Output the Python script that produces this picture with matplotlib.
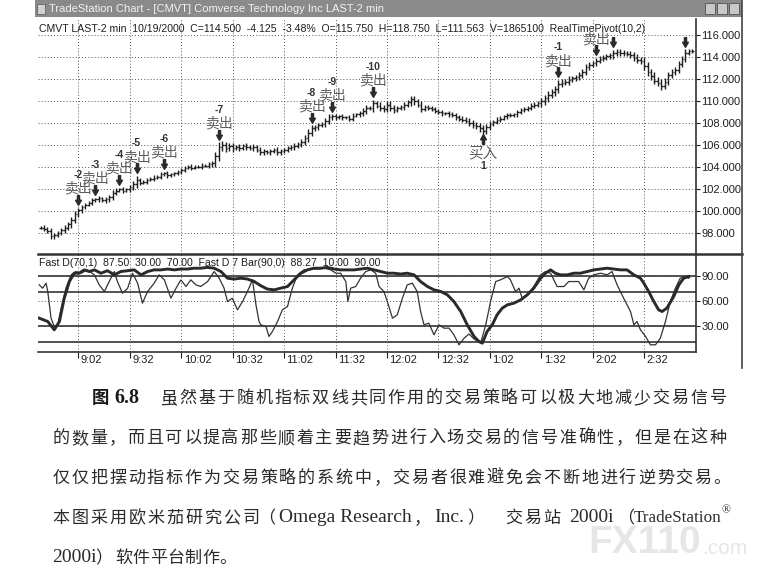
import matplotlib
matplotlib.use('Agg')
import matplotlib.pyplot as plt
import numpy as np
from matplotlib.lines import Line2D
from matplotlib.patches import Rectangle
from matplotlib.path import Path
from matplotlib.transforms import ScaledTranslation
from matplotlib.ticker import FormatStrFormatter

# ---------------- data ----------------
first_bar = 4          # bar index of the first visible 2-min bar (bar 0 = 8:32)

close = [
    98.45, 98.35, 98.15, 97.65, 97.75, 97.95, 98.25, 98.45, 98.75, 99.15,
    99.65, 100.02, 100.32, 100.52, 100.72, 100.92, 101.02, 101.12, 100.92, 101.02,
    101.22, 101.62, 101.82, 101.92, 101.82, 101.92, 102.12, 102.42, 102.79, 102.52,
    102.62, 102.79, 102.89, 102.99, 103.09, 103.29, 103.39, 103.19, 103.29, 103.39,
    103.49, 103.69, 103.89, 103.99, 103.89, 103.99, 103.99, 104.09, 104.09, 104.19,
    104.29, 104.99, 105.76, 105.96, 105.66, 105.86, 105.66, 105.76, 105.66, 105.86,
    105.76, 105.66, 105.76, 105.49, 105.29, 105.39, 105.29, 105.39, 105.49, 105.29,
    105.39, 105.49, 105.66, 105.76, 105.86, 106.06, 106.26, 106.56, 107.06, 107.46,
    107.56, 107.76, 107.86, 108.16, 108.46, 108.56, 108.46, 108.56, 108.46, 108.46,
    108.36, 108.63, 108.73, 108.83, 109.03, 109.33, 109.33, 109.73, 109.53, 109.33,
    109.23, 109.63, 109.33, 109.13, 109.33, 109.43, 109.63, 109.83, 110.13, 109.93,
    109.63, 109.23, 109.43, 109.33, 109.23, 109.03, 108.93, 108.83, 108.83, 108.73,
    108.66, 108.51, 108.36, 108.26, 108.16, 107.96, 107.76, 107.66, 107.46, 107.26,
    107.56, 107.86, 108.06, 108.26, 108.36, 108.56, 108.66, 108.66, 108.73, 108.93,
    109.13, 109.23, 109.33, 109.53, 109.63, 109.73, 109.93, 110.23, 110.53, 110.73,
    111.03, 111.53, 111.63, 111.71, 111.91, 112.01, 112.11, 112.31, 112.61, 113.01,
    113.21, 113.41, 113.61, 113.81, 113.91, 114.01, 114.11, 114.31, 114.41, 114.31,
    114.31, 114.21, 114.11, 113.91, 113.71, 113.61, 113.11, 112.61, 112.21, 111.81,
    111.63, 111.33, 111.71, 112.31, 112.61, 112.81, 113.31, 113.81, 114.35, 114.5, 114.5,
]

# extra range of each bar beyond its open/close
spread = [
    0.15, 0.2, 0.15, 0.25, 0.2, 0.15, 0.2, 0.25, 0.2, 0.3,
    0.3, 0.25, 0.2, 0.2, 0.15, 0.2, 0.15, 0.2, 0.15, 0.2,
    0.2, 0.25, 0.2, 0.15, 0.2, 0.15, 0.2, 0.25, 0.35, 0.2,
    0.15, 0.2, 0.15, 0.2, 0.15, 0.2, 0.15, 0.2, 0.15, 0.15,
    0.2, 0.15, 0.2, 0.15, 0.2, 0.15, 0.15, 0.2, 0.15, 0.2,
    0.2, 0.35, 0.45, 0.35, 0.3, 0.25, 0.3, 0.2, 0.25, 0.2,
    0.25, 0.2, 0.25, 0.2, 0.25, 0.2, 0.15, 0.2, 0.2, 0.25,
    0.2, 0.15, 0.2, 0.2, 0.25, 0.2, 0.25, 0.3, 0.35, 0.3,
    0.25, 0.2, 0.2, 0.25, 0.3, 0.2, 0.2, 0.15, 0.2, 0.15,
    0.2, 0.2, 0.15, 0.2, 0.25, 0.3, 0.2, 0.35, 0.25, 0.3,
    0.25, 0.3, 0.3, 0.25, 0.2, 0.2, 0.25, 0.25, 0.3, 0.3,
    0.25, 0.3, 0.2, 0.2, 0.2, 0.15, 0.2, 0.2, 0.15, 0.2,
    0.2, 0.25, 0.2, 0.25, 0.2, 0.25, 0.3, 0.25, 0.3, 0.35,
    0.3, 0.25, 0.2, 0.2, 0.2, 0.15, 0.2, 0.2, 0.15, 0.2,
    0.2, 0.15, 0.2, 0.2, 0.25, 0.25, 0.3, 0.3, 0.35, 0.3,
    0.3, 0.35, 0.3, 0.25, 0.3, 0.25, 0.2, 0.25, 0.3, 0.3,
    0.25, 0.2, 0.25, 0.2, 0.25, 0.2, 0.25, 0.3, 0.25, 0.3,
    0.25, 0.2, 0.25, 0.3, 0.3, 0.25, 0.35, 0.35, 0.3, 0.35,
    0.3, 0.35, 0.3, 0.3, 0.25, 0.25, 0.3, 0.25, 0.3, 0.2, 0.2,
]

time_ticks = [15, 30, 45, 60, 75, 90, 105, 120, 135, 150, 165, 180]
time_labels = ['9:02', '9:32', '10:02', '10:32', '11:02', '11:32',
               '12:02', '12:32', '1:02', '1:32', '2:02', '2:32']
price_ticks = [98, 100, 102, 104, 106, 108, 110, 112, 114, 116]

sell_bars = [15, 20, 27, 32, 40, 56, 83, 89, 101, 155, 166, 171, 192]
sell_nums = ['-2', '-3', '-4', '-5', '-6', '-7', '-8', '-9', '-10', '-1', '', '', '']
sell_tags = ['卖出'] * 11 + ['', '']
buy_bars = [133]
buy_nums = ['1']
buy_tags = ['买入']

# Fast D 7 Bar (thick) and Fast D (thin): (bar, value)
slow_pts = [(3.6, 39), (6.1, 35), (8.0, 25), (9.5, 35), (10.9, 63), (12.4, 83), (13.8, 93),
            (15.3, 93), (16.7, 97), (18.2, 95), (19.7, 97), (21.6, 93), (23.5, 96), (25.5, 91),
            (27.4, 95), (29.4, 96), (31.3, 97), (33.3, 91), (35.2, 95), (37.1, 97), (39.1, 97),
            (41.0, 98), (43.0, 97), (44.9, 98), (46.8, 98), (48.8, 99), (50.7, 99), (52.7, 100),
            (54.6, 99), (56.6, 95), (58.5, 87), (60.4, 86), (62.4, 87), (64.3, 86), (66.3, 83),
            (68.2, 78), (70.1, 74), (72.1, 73), (74.0, 75), (76.0, 77), (77.9, 85), (79.9, 93),
            (81.8, 97), (83.7, 99), (85.7, 99), (87.6, 100), (89.6, 98), (91.5, 97), (93.4, 97),
            (95.4, 97), (97.3, 98), (99.3, 99), (101.2, 97), (103.2, 95), (105.1, 93), (107.0, 93),
            (109.0, 92), (110.9, 93), (112.9, 91), (114.8, 83), (116.8, 77), (118.7, 73),
            (120.7, 71), (122.6, 67), (124.5, 59), (126.5, 47), (128.4, 31), (130.4, 17),
            (131.8, 11), (132.8, 9), (134.2, 23), (135.7, 31), (137.1, 43), (138.6, 51),
            (140.1, 55), (142.0, 57), (144.0, 61), (145.9, 67), (147.8, 75), (149.8, 87),
            (151.2, 93), (152.7, 97), (154.1, 93), (155.6, 91), (157.5, 91), (159.5, 93),
            (161.4, 93), (163.4, 95), (165.3, 97), (167.3, 98), (169.2, 99), (171.1, 98),
            (173.1, 97), (175.0, 97), (177.0, 91), (178.9, 87), (179.9, 81), (181.3, 71),
            (182.8, 59), (184.2, 49), (185.2, 47), (186.6, 51), (188.6, 65), (190.1, 79),
            (191.5, 87), (193.0, 89)]
fast_pts = [(3.6, 79), (4.6, 75), (5.6, 81), (6.1, 71), (7.05, 39), (8.0, 29), (9.0, 31),
            (10.0, 51), (11.4, 75), (12.9, 91), (14.3, 95), (15.8, 93), (17.7, 97), (19.7, 91),
            (21.1, 79), (22.6, 71), (24.0, 83), (25.5, 95), (26.4, 83), (27.9, 69), (29.4, 75),
            (30.8, 93), (32.3, 81), (33.7, 57), (35.2, 71), (37.1, 81), (38.6, 91), (40.1, 85),
            (42.0, 63), (43.5, 75), (44.9, 85), (46.4, 77), (47.8, 85), (49.3, 79), (50.7, 77),
            (52.7, 83), (54.6, 95), (56.1, 87), (57.5, 75), (58.5, 59), (59.9, 63), (61.4, 49),
            (62.9, 59), (64.3, 71), (65.8, 85), (66.8, 55), (67.7, 35), (68.2, 31), (69.7, 29),
            (70.6, 17), (71.6, 23), (73.1, 35), (74.5, 49), (76.0, 53), (77.4, 75), (78.9, 91),
            (80.8, 97), (82.8, 98), (84.7, 98), (86.7, 99), (88.6, 97), (90.1, 93), (91.5, 93),
            (93.0, 83), (93.6, 59), (94.4, 75), (95.9, 77), (97.3, 87), (98.8, 95), (100.3, 97),
            (101.7, 93), (102.7, 77), (104.1, 71), (105.1, 59), (106.6, 39), (108.0, 43),
            (109.5, 63), (110.9, 79), (112.4, 81), (113.8, 71), (114.8, 47), (115.8, 31),
            (117.2, 33), (118.7, 19), (120.2, 31), (121.6, 27), (123.1, 27), (124.5, 19),
            (126.0, 7), (127.5, 15), (128.9, 20), (130.4, 14), (132.3, 9), (133.8, 31),
            (135.2, 59), (136.7, 83), (138.1, 85), (140.1, 89), (141.0, 85), (142.5, 71),
            (143.5, 75), (144.4, 63), (145.9, 67), (147.8, 77), (149.8, 91), (151.2, 95),
            (152.7, 93), (154.6, 77), (156.6, 77), (158.0, 83), (159.5, 83), (160.9, 83),
            (162.4, 73), (163.8, 87), (165.3, 91), (167.3, 93), (169.2, 91), (170.6, 95),
            (172.1, 79), (174.0, 63), (176.0, 47), (177.0, 31), (177.9, 35), (178.9, 25),
            (180.4, 17), (181.8, 7), (183.3, 7), (184.7, 15), (186.2, 35), (187.6, 59),
            (189.1, 75), (190.5, 87), (192.0, 89), (193.0, 87)]
osc_levels = [90, 70, 30, 10]
osc_ticks = [30, 60, 90]

title = 'TradeStation Chart - [CMVT] Comverse Technology Inc LAST-2 min'
header = ('CMVT LAST-2 min  10/19/2000  C=114.500  -4.125  -3.48%  O=115.750  '
          'H=118.750  L=111.563  V=1865100  RealTimePivot(10,2)')
osc_header = 'Fast D(70,1)  87.50  30.00  70.00  Fast D 7 Bar(90,0)  88.27  10.00  90.00'

cap1 = '虽然基于随机指标双线共同作用的交易策略可以极大地减少交易信号'
cap2 = '的数量，而且可以提高那些顺着主要趋势进行入场交易的信号准确性，但是在这种'
cap3 = '仅仅把摆动指标作为交易策略的系统中，交易者很难避免会不断地进行逆势交易。'

# ---------------- figure ----------------
W, H = 766, 587
fig = plt.figure(figsize=(W / 100, H / 100), dpi=100)
fig.patch.set_facecolor('white')

CJK = 'Noto Sans CJK SC'
SANS = ['Liberation Sans', 'DejaVu Sans']
SERIF = ['Liberation Serif', CJK]
INK = '#1e1e1e'


def fx(x):
    return x / W


def fy(y):
    return 1 - y / H


ax = fig.add_axes([fx(38), fy(254), fx(696) - fx(38), fy(19) - fy(254)])
ax2 = fig.add_axes([fx(38), fy(352), fx(696) - fx(38), fy(254) - fy(352)], sharex=ax)

bars = np.arange(first_bar, first_bar + len(close))
c = np.array(close)
o = np.r_[c[0], c[:-1]]
s = np.array(spread)
hi = np.maximum(o, c) + s
lo = np.minimum(o, c) - s

ax.vlines(bars, lo, hi, color=INK, lw=1.0, zorder=3)
ax.hlines(o, bars - 0.45, bars, color=INK, lw=1.0, zorder=3)
ax.hlines(c, bars, bars + 0.45, color=INK, lw=1.0, zorder=3)

ax.set_xlim(3.25, 195.1)
ax.set_ylim(96.05, 117.41)
ax.set_yticks(price_ticks)
ax.set_xticks(time_ticks)
ax.yaxis.tick_right()
ax.yaxis.set_major_formatter(FormatStrFormatter('%.3f'))
ax.tick_params(axis='y', direction='out', length=3, pad=1, labelsize=8, colors=INK)
ax.tick_params(axis='x', length=0, labelbottom=False)
for lab in ax.get_yticklabels():
    lab.set_family(SANS)
ax.grid(True, ls=(0, (1, 2.2)), color='#555555', lw=0.7)
ax.set_axisbelow(True)
for side in ['left', 'top', 'bottom']:
    ax.spines[side].set_visible(False)
ax.spines['right'].set_color('#333333')
ax.spines['right'].set_linewidth(1.2)

# signals
arrow_dn = Path([(-0.22, 1), (0.22, 1), (0.22, 0.05), (0.6, 0.05), (0, -1),
                 (-0.6, 0.05), (-0.22, 0.05), (-0.22, 1)])
arrow_up = Path([(-0.22, -1), (0.22, -1), (0.22, -0.05), (0.6, -0.05), (0, 1),
                 (-0.6, -0.05), (-0.22, -0.05), (-0.22, -1)])
up_shift = ax.transData + ScaledTranslation(0, 5.5 / 72, fig.dpi_scale_trans)
dn_shift = ax.transData + ScaledTranslation(0, -3.2 / 72, fig.dpi_scale_trans)

for b, num, tag in zip(sell_bars, sell_nums, sell_tags):
    top = hi[b - first_bar]
    ax.plot(b, top, marker=arrow_dn, ms=7, color='#2a2a2a', transform=up_shift, zorder=4)
    if tag:
        ax.annotate(tag, (b, top), xytext=(0, 13.6), textcoords='offset points',
                    ha='center', va='center', fontsize=10, family=CJK, color='#5e5e5e')
    if num:
        ax.annotate(num, (b, top), xytext=(0, 23.5), textcoords='offset points',
                    ha='center', va='center', fontsize=7.5, family=SANS,
                    weight='bold', color='#333333')

for b, num, tag in zip(buy_bars, buy_nums, buy_tags):
    bot = lo[b - first_bar]
    ax.plot(b, bot, marker=arrow_up, ms=7, color='#2a2a2a', transform=dn_shift, zorder=4)
    ax.annotate(tag, (b, bot), xytext=(0, -13.5), textcoords='offset points',
                ha='center', va='center', fontsize=10.5, family=CJK, color='#5e5e5e')
    ax.annotate(num, (b, bot), xytext=(0, -23), textcoords='offset points',
                ha='center', va='center', fontsize=7.5, family=SANS,
                weight='bold', color='#333333')

# ---------------- oscillator panel ----------------
sx, sy = zip(*slow_pts)
qx, qy = zip(*fast_pts)
for lv in osc_levels:
    ax2.axhline(lv, color='#444444', lw=1.3, zorder=2)
ax2.plot(qx, qy, color='#333333', lw=0.9, zorder=3)
ax2.plot(sx, sy, color='#2a2a2a', lw=2.1, zorder=4)

ax2.set_ylim(-1.65, 116.07)
ax2.set_yticks(osc_ticks)
ax2.yaxis.tick_right()
ax2.yaxis.set_major_formatter(FormatStrFormatter('%.2f'))
ax2.tick_params(axis='y', direction='out', length=3, pad=1, labelsize=8, colors=INK)
ax2.set_xticks(time_ticks)
ax2.set_xticklabels(time_labels)
ax2.tick_params(axis='x', direction='out', length=4, pad=-2, labelsize=8, colors=INK)
nudge = ScaledTranslation(2.5 / 100, 0, fig.dpi_scale_trans)
for lab in ax2.get_xticklabels():
    lab.set_horizontalalignment('left')
    lab.set_family(SANS)
    lab.set_transform(lab.get_transform() + nudge)
for lab in ax2.get_yticklabels():
    lab.set_family(SANS)
ax2.grid(True, ls=(0, (1, 2.2)), color='#555555', lw=0.7)
ax2.set_axisbelow(True)
ax2.spines['left'].set_visible(False)
ax2.spines['top'].set_visible(False)
for side in ['right', 'bottom']:
    ax2.spines[side].set_color('#333333')
    ax2.spines[side].set_linewidth(1.2)

# ---------------- window chrome ----------------
fig.add_artist(Line2D([fx(38), fx(742)], [fy(254), fy(254)], color='#333333', lw=1.8))
fig.add_artist(Line2D([fx(742), fx(742)], [fy(0), fy(368)], color='#444444', lw=1.2))
fig.add_artist(Rectangle((fx(35), fy(17)), fx(742) - fx(35), fy(0) - fy(17),
                         transform=fig.transFigure, facecolor='#8a8a8a', edgecolor='none'))
fig.add_artist(Rectangle((fx(37), fy(14)), fx(8), fy(0) - fy(10),
                         transform=fig.transFigure, facecolor='#d0d0d0', edgecolor='#555555', lw=0.5))
for bx in [705, 717, 729]:
    fig.add_artist(Rectangle((fx(bx), fy(14)), fx(10), fy(0) - fy(11),
                             transform=fig.transFigure, facecolor='#c8c8c8',
                             edgecolor='#505050', lw=0.6))
fig.text(fx(49), fy(8.5), title, color='#f2f2f2', fontsize=8, family=SANS, va='center')
fig.text(fx(39), fy(28.5), header, color=INK, fontsize=7.6, family=SANS, va='center')
fig.text(fx(39), fy(263), osc_header, color=INK, fontsize=7.6, family=SANS, va='center')

# ---------------- caption ----------------


def spread_text(txt, x0, x1, y, **kw):
    n = len(txt)
    for k, ch in enumerate(txt):
        fig.text(fx(x0 + (x1 - x0) * k / (n - 1)), fy(y), ch, ha='center', va='center', **kw)


cap_kw = dict(fontsize=12.3, family=CJK, color='#2a2a2a')
lat_kw = dict(fontsize=14, family=SERIF, color='#2a2a2a')

fig.text(fx(92), fy(398), '图', fontsize=12.5, family=CJK, weight='bold', color='#1a1a1a', va='center')
fig.text(fx(114), fy(398), '6.8', fontsize=14.5, family=SERIF, weight='bold', color='#1a1a1a', va='center')
spread_text(cap1, 169, 718, 398, **cap_kw)
spread_text(cap2, 61, 718, 438, **cap_kw)
spread_text(cap3, 61, 722, 478, **cap_kw)

spread_text('本图采用欧米茄研究公司', 61, 251, 518, **cap_kw)
fig.text(fx(267), fy(518), '（', ha='center', va='center', **cap_kw)
fig.text(fx(279), fy(518), 'Omega Research', ha='left', va='center', **lat_kw)
fig.text(fx(422), fy(518), '，', ha='center', va='center', **cap_kw)
fig.text(fx(434), fy(518), 'Inc.', ha='left', va='center', **lat_kw)
fig.text(fx(476), fy(518), '）', ha='center', va='center', **cap_kw)
spread_text('交易站', 514, 552, 518, **cap_kw)
fig.text(fx(569), fy(518), '2000i', ha='left', va='center', **lat_kw)
fig.text(fx(626), fy(518), '（', ha='center', va='center', **cap_kw)
fig.text(fx(634), fy(518), 'TradeStation', ha='left', va='center', fontsize=12.3,
         family=SERIF, color='#2a2a2a')
fig.text(fx(722), fy(510), '®', ha='left', va='center', fontsize=8.5, family=SERIF, color='#2a2a2a')

fig.text(fx(52), fy(558), '2000i', ha='left', va='center', **lat_kw)
fig.text(fx(104), fy(558), '）', ha='center', va='center', **cap_kw)
spread_text('软件平台制作。', 124, 228, 558, **cap_kw)

# watermark
fig.text(fx(588), fy(543), 'FX110', fontsize=28, family=SANS, weight='bold',
         color='#e6e6e6', va='center', ha='left', zorder=0)
fig.text(fx(702), fy(548), '.com', fontsize=15, family=SANS,
         color='#e6e6e6', va='center', ha='left', zorder=0)

fig.savefig('out.png', dpi=100, facecolor='white')
